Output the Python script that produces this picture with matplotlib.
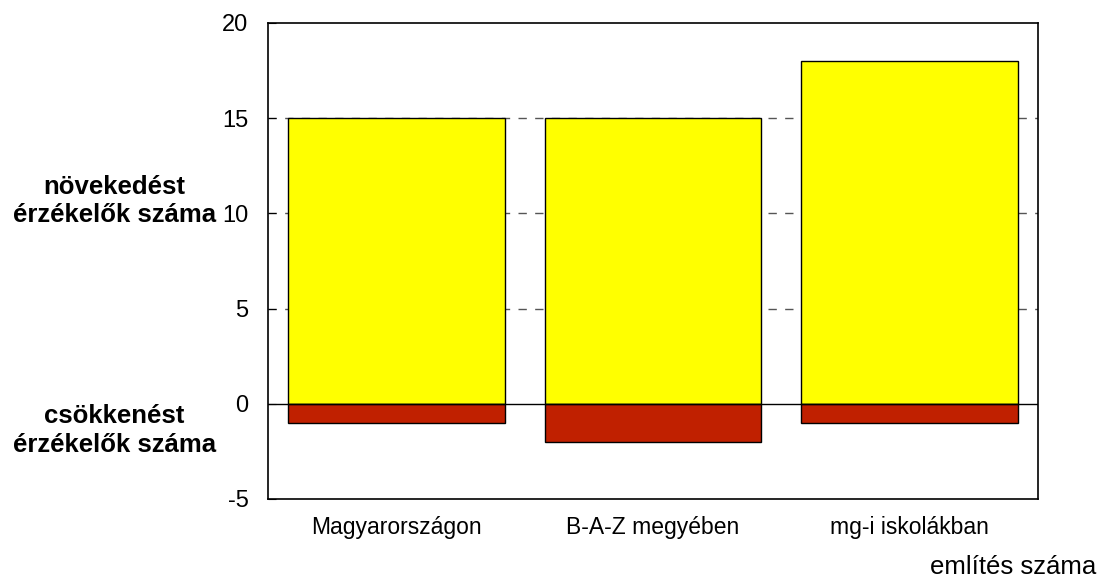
import numpy as np
import matplotlib.pyplot as plt

plt.rcParams['font.family'] = ['Liberation Sans', 'DejaVu Sans']

categories = ["Magyarországon", "B-A-Z megyében", "mg-i iskolákban"]
increase = [15, 15, 18]   # növekedést érzékelők száma
decrease = [-1, -2, -1]   # csökkenést érzékelők száma

fig = plt.figure(figsize=(10.98, 5.88), dpi=100)
ax = fig.add_axes([0.244, 0.1514, 0.7014, 0.8095])

x = np.arange(len(categories))
ax.bar(x, increase, width=0.845, color="#FFFF00", edgecolor="black", linewidth=1, zorder=3)
ax.bar(x, decrease, width=0.845, color="#C02000", edgecolor="black", linewidth=1, zorder=3)

ax.set_xlim(-0.5, 2.5)
ax.set_ylim(-5, 20)
ax.set_yticks([-5, 0, 5, 10, 15, 20])
ax.set_yticklabels(["-5", "0", "5", "10", "15", "20"])
for g in [5, 10, 15]:
    ax.axhline(g, color="#555555", linestyle=(0, (6, 6)), linewidth=1, zorder=1)
ax.axhline(0, color="black", linewidth=1, zorder=4)

ax.set_xticks(x)
ax.set_xticklabels(categories)
ax.tick_params(axis="x", length=0, pad=12, labelsize=16.5)
ax.tick_params(axis="y", direction="in", length=6, pad=14, labelsize=17)

for s in ax.spines.values():
    s.set_linewidth(1.2)

fig.text(0.104, 0.658, "növekedést\nérzékelők száma", ha="center", va="center",
         fontsize=18.5, fontweight="bold", linespacing=1.25)
fig.text(0.104, 0.268, "csökkenést\nérzékelők száma", ha="center", va="center",
         fontsize=18.5, fontweight="bold", linespacing=1.25)
fig.text(0.998, 0.036, "említés száma", ha="right", va="center", fontsize=18.5)

fig.savefig("out.png", dpi=100)
